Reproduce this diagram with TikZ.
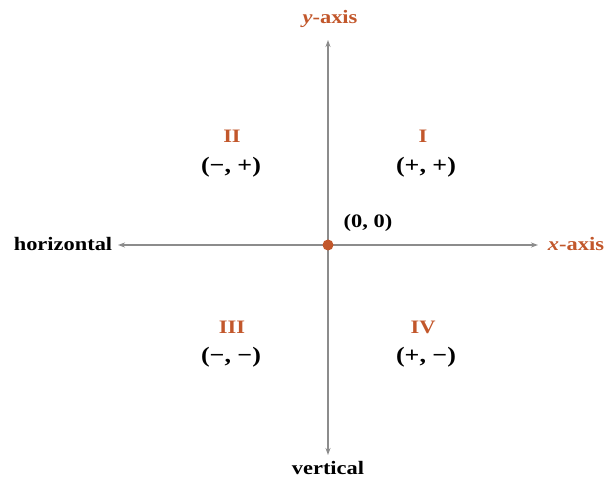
\documentclass[tikz,border=0pt]{standalone}
\usepackage{fontspec}
\setmainfont{Liberation Serif}[FakeStretch=1.18]
\usetikzlibrary{arrows.meta}
\definecolor{accent}{HTML}{C2572B}
\definecolor{axisgray}{HTML}{8C8C8C}
\begin{document}
\begin{tikzpicture}[x=1pt,y=-1pt,
  lbl/.style={font=\bfseries\fontsize{19}{22}\selectfont, inner sep=0pt, text=black},
  sgn/.style={font=\bfseries\fontsize{22}{24}\selectfont, inner sep=0pt, text=black},
  quad/.style={font=\bfseries\fontsize{19}{22}\selectfont, inner sep=0pt, text=accent},
  axisline/.style={draw=axisgray, line width=1.7pt, {Stealth[length=7pt,width=5pt]}-{Stealth[length=7pt,width=5pt]}}]
\useasboundingbox (0,0) rectangle (606,478);
\coordinate (L) at (118,245);
\coordinate (R) at (538,245);
\coordinate (T) at (328,40);
\coordinate (B) at (328,455);
\draw[axisline] (L) -- (R);
\draw[axisline] (B) -- (T);
\node[circle, fill=accent, inner sep=0pt, minimum size=11pt] (O) at (328,245) {};
\node[quad] (ylab) at (330,19) {\textit{y}-axis};
\node[quad] (xlab) at (576,244) {\textit{x}-axis};
\node[lbl] (hlab) at (63,244) {horizontal};
\node[lbl] (vlab) at (328,468) {vertical};
\node[lbl] (orig) at (368,223) {(0, 0)};
\node[quad] (q1) at (423,136) {I};
\node[sgn] (s1) at (426,167) {(+, +)};
\node[quad] (q2) at (232,136) {II};
\node[sgn] (s2) at (231,167) {(−, +)};
\node[quad] (q3) at (232,327) {III};
\node[sgn] (s3) at (231,357) {(−, −)};
\node[quad] (q4) at (423,327) {IV};
\node[sgn] (s4) at (426,357) {(+, −)};
\end{tikzpicture}
\end{document}
